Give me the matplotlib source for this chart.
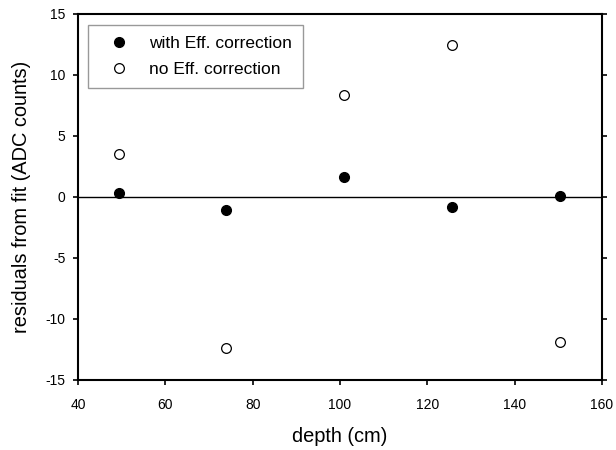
import numpy as np
from matplotlib import pyplot as plt

plt.rcParams['font.family'] = ['Liberation Sans', 'DejaVu Sans']
plt.rcParams['axes.unicode_minus'] = False

depth = [49.4, 74.0, 100.9, 125.6, 150.3]
with_eff = [0.3, -1.04, 1.61, -0.82, 0.06]
no_eff = [3.55, -12.4, 8.33, 12.43, -11.86]

fig = plt.figure(figsize=(6.16, 4.5), dpi=100)
ax = fig.add_axes([0.1266, 0.1556, 0.8506, 0.8133])

ax.axhline(0, color='black', linewidth=1.0, zorder=1)
ax.plot(depth, with_eff, 'o', color='black', markersize=7, linestyle='none',
        label='with Eff. correction', zorder=3)
ax.plot(depth, no_eff, 'o', markerfacecolor='white', markeredgecolor='black',
        markeredgewidth=0.9, markersize=7, linestyle='none',
        label='no Eff. correction', zorder=3)

ax.set_xlim(40, 160)
ax.set_ylim(-15, 15)
ax.set_xticks(np.arange(40, 161, 20))
ax.set_yticks(np.arange(-15, 16, 5))
ax.tick_params(direction='out', length=3.6, width=1.2, labelsize=10,
               right=True, top=False)
ax.tick_params(axis='x', pad=9.4)
ax.tick_params(axis='y', pad=5.5)
for s in ax.spines.values():
    s.set_linewidth(1.5)

ax.set_xlabel('depth (cm)', fontsize=14.4, labelpad=11)
ax.set_ylabel('residuals from fit (ADC counts)', fontsize=14.4, labelpad=10)

leg = ax.legend(loc='upper left', bbox_to_anchor=(0.019, 0.970), fontsize=12.5,
                frameon=True, fancybox=False, borderpad=0.65, handlelength=2.3,
                handletextpad=0.57, labelspacing=0.58, borderaxespad=0)
leg.get_frame().set_edgecolor('gray')
leg.get_frame().set_linewidth(1.0)

fig.savefig('out.png', dpi=100)
